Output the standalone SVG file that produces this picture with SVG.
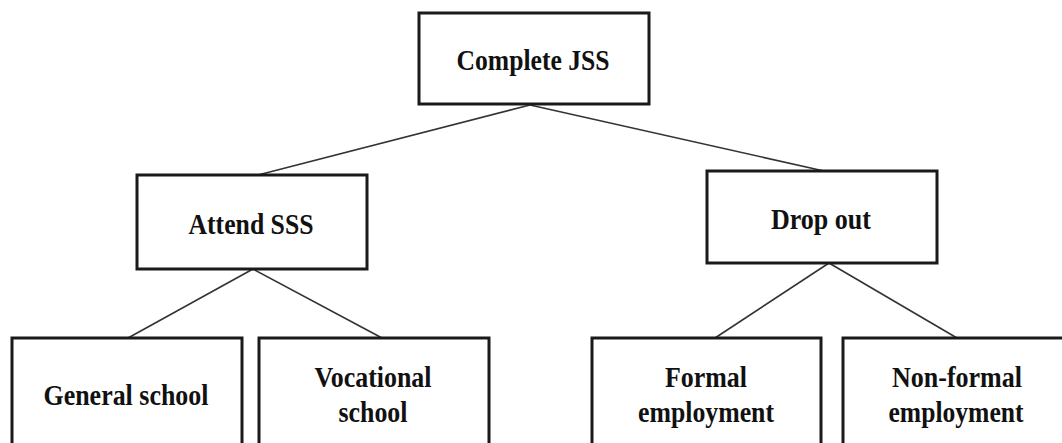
<svg xmlns="http://www.w3.org/2000/svg" width="1062" height="443" viewBox="0 0 1062 443">
<style>
.box{fill:#fff;stroke:#1a1a1a;stroke-width:3}
.lbl{font-weight:bold;font-size:30px;fill:#111;text-anchor:middle}
.con line{stroke:#333;stroke-width:1.6}
</style>
<rect width="1062" height="443" fill="#fff"/>
<g id="connectors" class="con">
<line x1="530" y1="105" x2="258" y2="175"/>
<line x1="530" y1="105" x2="824" y2="171"/>
<line x1="253" y1="269" x2="128" y2="338"/>
<line x1="253" y1="269" x2="382" y2="338"/>
<line x1="829" y1="263" x2="715" y2="338"/>
<line x1="829" y1="263" x2="957" y2="338"/>
</g>
<g font-family="'Liberation Serif', 'DejaVu Serif', serif">
<g id="complete-jss">
<rect class="box" x="419" y="13" width="230" height="91"/>
<text class="lbl" x="533" y="70" textLength="153" lengthAdjust="spacingAndGlyphs">Complete JSS</text>
</g>
<g id="attend-sss">
<rect class="box" x="137" y="175" width="230" height="94"/>
<text class="lbl" x="251" y="234" textLength="125" lengthAdjust="spacingAndGlyphs">Attend SSS</text>
</g>
<g id="drop-out">
<rect class="box" x="707" y="171" width="230" height="92"/>
<text class="lbl" x="821" y="229" textLength="100" lengthAdjust="spacingAndGlyphs">Drop out</text>
</g>
<g id="general-school">
<rect class="box" x="12" y="338" width="230" height="120"/>
<text class="lbl" x="126" y="405" textLength="165" lengthAdjust="spacingAndGlyphs">General school</text>
</g>
<g id="vocational-school">
<rect class="box" x="259" y="338" width="230" height="120"/>
<text class="lbl" x="373" y="387" textLength="117" lengthAdjust="spacingAndGlyphs">Vocational</text>
<text class="lbl" x="373" y="422" textLength="69" lengthAdjust="spacingAndGlyphs">school</text>
</g>
<g id="formal-employment">
<rect class="box" x="592" y="338" width="229" height="120"/>
<text class="lbl" x="706" y="387" textLength="82" lengthAdjust="spacingAndGlyphs">Formal</text>
<text class="lbl" x="706" y="422" textLength="136" lengthAdjust="spacingAndGlyphs">employment</text>
</g>
<g id="non-formal-employment">
<rect class="box" x="843" y="338" width="230" height="120"/>
<text class="lbl" x="957" y="387" textLength="130" lengthAdjust="spacingAndGlyphs">Non-formal</text>
<text class="lbl" x="956" y="422" textLength="135" lengthAdjust="spacingAndGlyphs">employment</text>
</g>
</g>
</svg>
